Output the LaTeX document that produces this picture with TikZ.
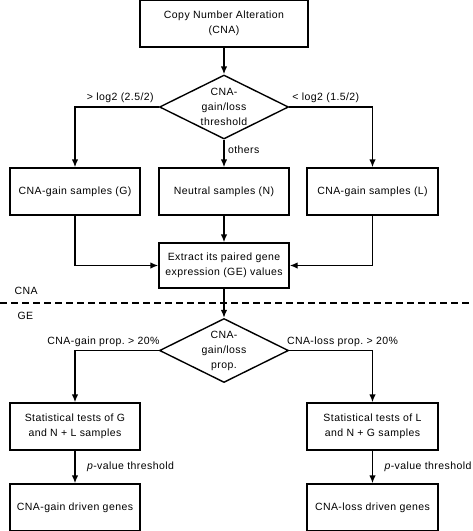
\documentclass[tikz,border=0pt]{standalone}
\usepackage{fontspec}
\setmainfont[LetterSpace=4]{Liberation Sans}
\usetikzlibrary{shapes.geometric,arrows.meta}

\begin{document}
\begin{tikzpicture}[%
  x=1pt, y=-1pt,
  font=\fontsize{10.5}{15}\selectfont,
  box/.style={draw, line width=1.4pt, minimum width=130pt,
    minimum height=47pt, align=center, inner sep=0pt},
  decision/.style={draw, line width=1.4pt, diamond, minimum width=129pt,
    minimum height=64pt, inner sep=0pt},
  line/.style={draw, line width=1.4pt, -{Latex[length=8pt,width=6.5pt]}}
  ]
  \useasboundingbox (0,0) rectangle (473,531);
  % CNA part
  \node[box, minimum width=168pt] (cna) at (224,23.5) {Copy Number Alteration\\(CNA)};
  \node[decision, label={[align=center]center:CNA-\\gain/loss\\threshold}] (thr) at (224,107) {};
  \node[box] (gain) at (75,191.5) {CNA-gain samples (G)};
  \node[box] (neut) at (224,191.5) {Neutral samples (N)};
  \node[box, minimum width=131pt] (loss) at (372.5,191.5) {CNA-gain samples (L)};
  \node[box, minimum height=45pt] (ext) at (224,265.5) {Extract its paired gene\\expression (GE) values};
  % separator
  \coordinate (sepl) at (0,303);
  \coordinate (sepr) at (473,303);
  \draw[line width=1.4pt, dash pattern=on 7pt off 4pt] (sepl) -- (sepr);
  \node[anchor=west] (cnalbl) at (11,291) {CNA};
  \node[anchor=west] (gelbl) at (14,316) {GE};
  % GE part
  \node[decision, label={[align=center]center:CNA-\\gain/loss\\prop.}] (prop) at (224,350.5) {};
  \node[box] (testg) at (75,426.5) {Statistical tests of G\\and N + L samples};
  \node[box, minimum width=131pt] (testl) at (372.5,426.5) {Statistical tests of L\\and N + G samples};
  \node[box] (drvg) at (75,507.5) {CNA-gain driven genes};
  \node[box, minimum width=131pt] (drvl) at (372.5,507.5) {CNA-loss driven genes};

  \path[line] (cna) -- (thr);
  \path[line] (thr.west) -| node[pos=0.23, above] {> log2 (2.5/2)} (gain);
  \path[line] (thr.east) -| node[pos=0.22, above] {< log2 (1.5/2)} (loss);
  \path[line] (thr) -- node[pos=0.35, right] {others} (neut);
  \path[line] (neut) -- (ext);
  \path[line] (gain) |- (ext);
  \path[line] (loss) |- (ext);
  \path[line] (ext) -- (prop);
  \path[line] (prop.west) -| node[pos=0.33, above] {CNA-gain prop.\ > 20\%} (testg);
  \path[line] (prop.east) -| node[pos=0.32, above] {CNA-loss prop.\ > 20\%} (testl);
  \path[line] (testg) -- node[right, xshift=8pt] {\textit{p}-value threshold} (drvg);
  \path[line] (testl) -- node[right, xshift=8pt] {\textit{p}-value threshold} (drvl);
\end{tikzpicture}
\end{document}
